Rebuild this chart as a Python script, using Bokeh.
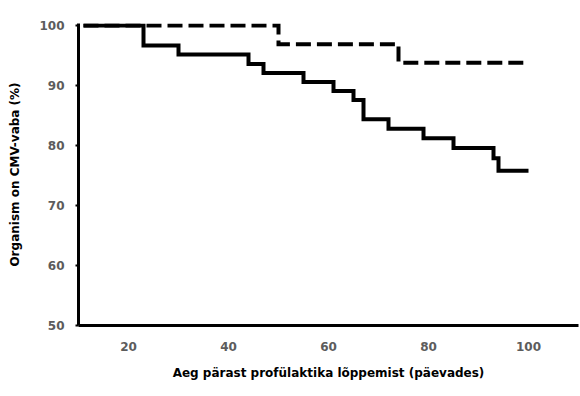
from bokeh.plotting import figure
from bokeh.models import FixedTicker, Range1d
from bokeh.embed import file_html
from bokeh.resources import INLINE

# Kaplan-Meier style step data (days after end of prophylaxis, % CMV-free)
solid_days = [11, 23, 30, 44, 47, 55, 61, 65, 67, 72, 79, 85, 93, 94, 100]
solid_surv = [100, 96.7, 95.2, 93.6, 92.1, 90.6, 89.1, 87.6, 84.4, 82.8, 81.2, 79.6, 77.9, 75.8, 75.8]

dashed_days = [11, 50, 74, 100]
dashed_surv = [100, 96.9, 93.8, 93.8]

x_ticks = [20, 40, 60, 80, 100]
y_ticks = [50, 60, 70, 80, 90, 100]

x_label = "Aeg pärast profülaktika lõppemist (päevades)"
y_label = "Organism on CMV-vaba (%)"

p = figure(width=580, height=396, output_backend="svg", toolbar_location=None,
           x_range=Range1d(10, 110), y_range=Range1d(50, 100.35),
           min_border_left=78, min_border_right=2, min_border_top=23, min_border_bottom=71)

p.step(dashed_days, dashed_surv, mode="after", line_color="black", line_width=4,
       line_dash="15 6", line_join="miter")
p.step(solid_days, solid_surv, mode="after", line_color="black", line_width=4,
       line_join="miter")

p.grid.visible = False
p.outline_line_color = None
p.background_fill_color = "white"
p.border_fill_color = "white"

font = "DejaVu Sans"
for ax in (p.xaxis[0], p.yaxis[0]):
    ax.axis_line_color = "black"
    ax.axis_line_width = 3
    ax.major_tick_line_color = "black"
    ax.major_tick_line_width = 2
    ax.minor_tick_line_color = None
    ax.major_tick_in = 0
    ax.major_label_text_font = font
    ax.major_label_text_font_style = "bold"
    ax.major_label_text_font_size = "12px"
    ax.major_label_text_color = "#5c5c5c"
    ax.axis_label_text_font = font
    ax.axis_label_text_font_style = "bold"
    ax.axis_label_text_font_size = "12px"
    ax.axis_label_text_color = "black"

p.xaxis[0].ticker = FixedTicker(ticks=x_ticks)
p.xaxis[0].major_tick_out = 0
p.xaxis[0].major_label_standoff = 16
p.xaxis[0].axis_label = x_label
p.xaxis[0].axis_label_standoff = 12

p.yaxis[0].ticker = FixedTicker(ticks=y_ticks)
p.yaxis[0].major_tick_out = 3
p.yaxis[0].major_label_standoff = 11
p.yaxis[0].axis_label = y_label
p.yaxis[0].axis_label_standoff = 14

open("out.html", "w").write(file_html(p, INLINE))
